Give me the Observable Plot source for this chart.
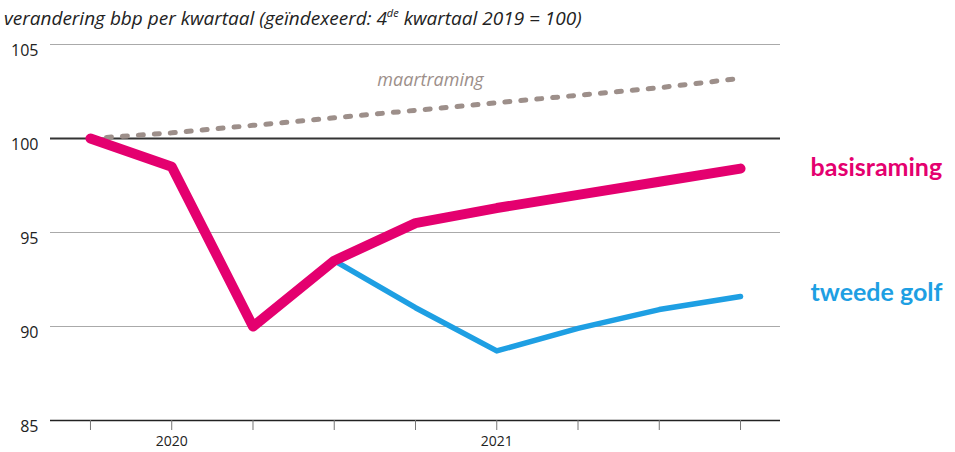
<!DOCTYPE html>
<html>
<head>
<meta charset="utf-8">
<script src="https://cdn.jsdelivr.net/npm/d3@7"></script>
<script src="https://cdn.jsdelivr.net/npm/@observablehq/plot@0.6"></script>
<style>
  html, body { margin: 0; padding: 0; background: #fff; }
  #title { height: 35px; box-sizing: border-box; padding: 6px 0 0 4px; font-family: "Open Sans", sans-serif; font-style: italic; font-size: 19px; color: #222; white-space: nowrap; line-height: 24px; }
  #title sup { font-size: 11px; line-height: 0; vertical-align: 8px; }
  #chart svg { display: block; }
</style>
</head>
<body>
<div id="title">verandering bbp per kwartaal (geïndexeerd: 4<sup>de</sup> kwartaal 2019 = 100)</div>
<div id="chart"></div>
<script>
const quarters = ["2019K4","2020K1","2020K2","2020K3","2020K4","2021K1","2021K2","2021K3","2021K4"];
const basisraming = [100, 98.5, 90.0, 93.5, 95.5, 96.3, 97.0, 97.7, 98.4];
const tweedeGolf = [null, null, null, 93.5, 91.0, 88.7, 89.9, 90.9, 91.6];
const maartraming = [100, 100.3, 100.7, 101.1, 101.5, 101.9, 102.3, 102.7, 103.2];
const yTicks = [85, 90, 95, 100, 105];
const yearLabels = {1: "2020", 5: "2021"};

const rows = (name, vals) => vals.map((v, i) => ({i, q: quarters[i], v, name})).filter(d => d.v != null);
const basis = rows("basisraming", basisraming);
const golf = rows("tweede golf", tweedeGolf);
const maart = rows("maartraming", maartraming);

const font = "Open Sans, sans-serif";
const pink = "#e4006f", blue = "#1e9fe3", grey = "#9d8f8a";

const chart = Plot.plot({
  width: 955,
  height: 417,
  marginTop: 9,
  marginBottom: 32,
  marginLeft: 50,
  marginRight: 175,
  style: {fontFamily: font, background: "white"},
  x: {domain: [-0.492, 8.492], axis: null, label: null},
  y: {domain: [85, 105], axis: null, label: null},
  marks: [
    Plot.ruleY(yTicks.filter(t => t !== 100 && t !== 85), {stroke: "#aaa", strokeWidth: 1.2}),
    Plot.ruleY([100], {stroke: "#333", strokeWidth: 2}),
    Plot.ruleY([85], {stroke: "#222", strokeWidth: 1.6}),
    Plot.axisY(yTicks, {label: null, tickSize: 0, tickPadding: 12, dy: 6, fontSize: 16, fill: "#222"}),
    Plot.axisX(d3.range(quarters.length), {label: null, tickSize: 10, tickPadding: 6, stroke: "#777", fontSize: 14, fill: "#222",
      tickFormat: i => yearLabels[i] ?? ""}),
    Plot.line(maart, {x: "i", y: "v", stroke: grey, strokeWidth: 5, strokeDasharray: "5,11", strokeLinecap: "round"}),
    Plot.line(golf, {x: "i", y: "v", stroke: blue, strokeWidth: 5.5, strokeLinejoin: "round", strokeLinecap: "round"}),
    Plot.line(basis, {x: "i", y: "v", stroke: pink, strokeWidth: 10, strokeLinejoin: "round", strokeLinecap: "round"}),
    Plot.text(basis.slice(-1), {x: "i", y: "v", text: "name", dx: 70, dy: -1, textAnchor: "start", fill: pink, fontSize: 25, fontWeight: "bold", fontFamily: "Lato, sans-serif"}),
    Plot.text(golf.slice(-1), {x: "i", y: "v", text: "name", dx: 70, dy: -3, textAnchor: "start", fill: blue, fontSize: 25, fontWeight: "bold", fontFamily: "Lato, sans-serif"}),
    Plot.text(maart.filter(d => d.i === 4), {x: "i", y: "v", text: "name", dx: 15, dy: -30, fill: grey, fontSize: 18, fontStyle: "italic"})
  ]
});
document.getElementById("chart").appendChild(chart);
</script>
</body>
</html>
